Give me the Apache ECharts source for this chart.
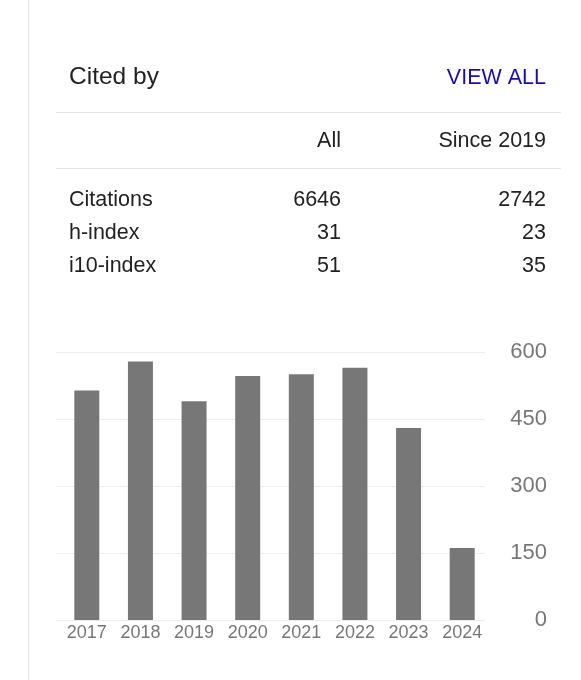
<!DOCTYPE html>
<html>
<head>
<meta charset="utf-8">
<title>Cited by</title>
<script src="https://cdn.jsdelivr.net/npm/echarts@6.0.0/dist/echarts.min.js"></script>
<style>
  html, body { margin: 0; padding: 0; background: #fff; }
  #chart { width: 581px; height: 680px; }
</style>
</head>
<body>
<div id="chart"></div>
<script>
// citations per year (bars)
const years = ['2017', '2018', '2019', '2020', '2021', '2022', '2023', '2024'];
const citations = [514, 579, 490, 546, 550, 565, 430, 161];
const yTicks = [0, 150, 300, 450, 600];

// summary table
const columnHeaders = ['All', 'Since 2019'];
const rowLabels = ['Citations', 'h-index', 'i10-index'];
const allValues = [6646, 31, 51];
const sinceValues = [2742, 23, 35];

const FONT = 'Arial, "Liberation Sans", Helvetica, sans-serif';
const TEXT = '#222';
const GREY = '#777';
const RULE = '#e3e3e3';

function label(text, x, y, align, size, color) {
  return {
    type: 'text', x: x, y: y, silent: true,
    style: { text: String(text), fill: color || TEXT, font: size + 'px ' + FONT, align: align, verticalAlign: 'middle' }
  };
}

function rule(x1, y, x2, color) {
  return { type: 'line', silent: true, shape: { x1: x1, y1: y, x2: x2, y2: y }, style: { stroke: color || RULE, lineWidth: 1 } };
}

const graphics = [
  { type: 'line', silent: true, shape: { x1: 28.5, y1: 0, x2: 28.5, y2: 680 }, style: { stroke: '#e8e8e8', lineWidth: 1.5 } },
  label('Cited by', 69, 77.5, 'left', 24.5),
  label('VIEW ALL', 546, 78.5, 'right', 21.5, '#1a0dab'),
  rule(56, 112.5, 561),
  label(columnHeaders[0], 341, 141, 'right', 21.5),
  label(columnHeaders[1], 546, 141, 'right', 21.5),
  rule(56, 168.5, 561)
];

const rowY = [199.7, 232.9, 266.1];
rowLabels.forEach((name, i) => {
  graphics.push(label(name, 69, rowY[i], 'left', 21.5));
  graphics.push(label(allValues[i], 341, rowY[i], 'right', 21.5));
  graphics.push(label(sinceValues[i], 546, rowY[i], 'right', 21.5));
});

const valueAxisBase = {
  type: 'value',
  min: yTicks[0],
  max: yTicks[yTicks.length - 1],
  interval: yTicks[1] - yTicks[0],
  axisLine: { show: false },
  axisTick: { show: false }
};

const chart = echarts.init(document.getElementById('chart'), null, { renderer: 'canvas' });

chart.setOption({
  animation: false,
  backgroundColor: '#fff',
  graphic: graphics,
  // grid 0 carries the gridlines and value labels, grid 1 the bars (slightly offset, as in the widget)
  grid: [
    { left: 56, top: 352, width: 429, height: 268 },
    { left: 60, top: 352, width: 429, height: 268 }
  ],
  xAxis: [
    { type: 'category', gridIndex: 0, data: years, show: false },
    {
      type: 'category',
      gridIndex: 1,
      data: years,
      axisLine: { show: false },
      axisTick: { show: false },
      axisLabel: { color: GREY, fontSize: 18, fontFamily: FONT, margin: 4 }
    }
  ],
  yAxis: [
    Object.assign({}, valueAxisBase, {
      gridIndex: 0,
      position: 'right',
      axisLabel: { color: GREY, fontSize: 22, fontFamily: FONT, align: 'right', margin: 62 },
      splitLine: { lineStyle: { color: '#ececec', width: 1 } }
    }),
    Object.assign({}, valueAxisBase, {
      gridIndex: 1,
      axisLabel: { show: false },
      splitLine: { show: false }
    })
  ],
  series: [{
    type: 'bar',
    xAxisIndex: 1,
    yAxisIndex: 1,
    data: citations,
    barWidth: 25,
    itemStyle: { color: GREY },
    silent: true
  }]
});

window.addEventListener('resize', () => chart.resize());
</script>
</body>
</html>
